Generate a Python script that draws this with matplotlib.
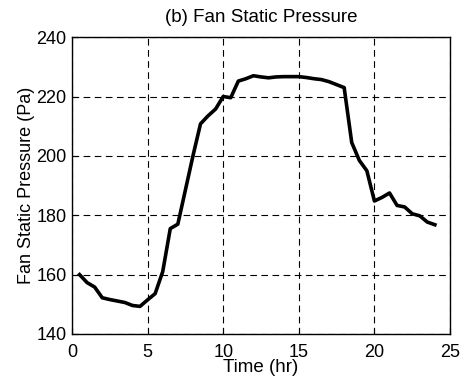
import matplotlib
matplotlib.use("Agg")
import matplotlib.pyplot as plt

plt.rcParams['font.family'] = ['Liberation Sans', 'DejaVu Sans']

# Half-hourly fan static pressure over one day
time_hr = [0.5, 1.0, 1.5, 2.0, 2.5, 3.0, 3.5, 4.0, 4.5, 5.0, 5.5, 6.0,
           6.5, 7.0, 7.5, 8.0, 8.5, 9.0, 9.5, 10.0, 10.5, 11.0, 11.5, 12.0,
           12.5, 13.0, 13.5, 14.0, 14.5, 15.0, 15.5, 16.0, 16.5, 17.0, 17.5, 18.0,
           18.5, 19.0, 19.5, 20.0, 20.5, 21.0, 21.5, 22.0, 22.5, 23.0, 23.5, 24.0]
pressure_pa = [160.0, 157.3, 155.8, 152.2, 151.6, 151.1, 150.6, 149.6, 149.3, 151.5, 153.6, 161.0,
               175.5, 177.0, 188.5, 200.0, 210.8, 213.5, 215.8, 220.0, 219.6, 225.2, 226.0, 227.0,
               226.6, 226.3, 226.6, 226.7, 226.7, 226.7, 226.4, 226.0, 225.7, 225.0, 224.0, 223.0,
               204.5, 198.5, 195.0, 184.8, 186.0, 187.5, 183.3, 182.8, 180.5, 179.8, 177.7, 176.8]

x_ticks = [0, 5, 10, 15, 20, 25]
y_ticks = [140, 160, 180, 200, 220, 240]

fig = plt.figure(figsize=(4.69, 3.87), dpi=100)
ax = fig.add_axes([0.1535, 0.137, 0.806, 0.767])

ax.plot(time_hr, pressure_pa, color='black', linewidth=2.6, solid_joinstyle='round')

ax.set_xlim(0, 25)
ax.set_ylim(140, 240)
ax.set_xticks(x_ticks)
ax.set_yticks(y_ticks)
ax.tick_params(direction='in', length=4, width=0.8, labelsize=13)
ax.tick_params(axis='x', pad=7.5)
ax.tick_params(axis='y', pad=4)
ax.grid(True, color='black', linestyle=(0, (6, 4)), linewidth=0.8)

for s in ax.spines.values():
    s.set_linewidth(1.0)

ax.set_title('(b) Fan Static Pressure', fontsize=13.5, pad=11)
ax.set_xlabel('Time (hr)', fontsize=13.5, labelpad=-1.5)
ax.set_ylabel('Fan Static Pressure (Pa)', fontsize=13, labelpad=1)

fig.savefig('out.png', dpi=100)
